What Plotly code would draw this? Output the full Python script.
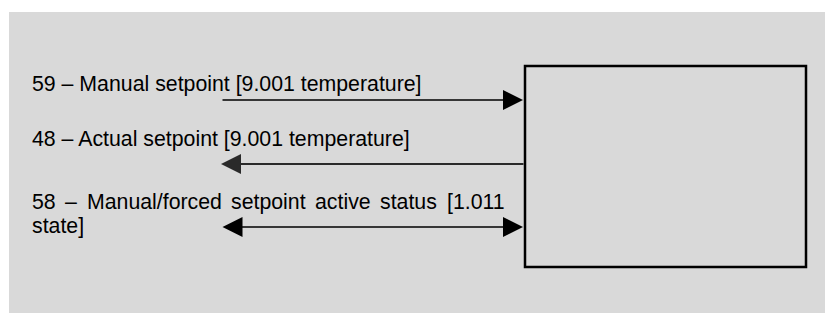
import plotly.graph_objects as go

# ---- diagram content ----
labels = [
    "59 – Manual setpoint [9.001 temperature]",
    "48 – Actual setpoint [9.001 temperature]",
]
label_y = [84, 139]
line3_words = ["58", "–", "Manual/forced", "setpoint", "active", "status", "[1.011"]
line3_x = [30, 63, 85, 229, 313, 378, 445]
line3_y = 202
line4_text = "state]"
line4_y = 226

arrow_y = [100, 164, 227]
arrow_dir = ["in", "out", "both"]
arrow_x0 = 221
arrow_x1 = 523

box = dict(x0=525, y0=66, x1=806, y1=267)
panel = dict(x0=9, y0=12, x1=845, y1=330)

W, H = 833, 313
OX, OY = 8, 8  # page body margin: data coords == window pixels
FONT = dict(family="Liberation Sans, Arial, sans-serif", size=21.3, color="#000000")

fig = go.Figure()
fig.add_trace(go.Scatter(x=[OX, OX + W], y=[OY, OY + H], mode="markers",
                         marker=dict(opacity=0), hoverinfo="skip", showlegend=False))

fig.add_shape(type="rect", xref="x", yref="y", **panel,
              fillcolor="#d9d9d9", line=dict(width=0), layer="below")
fig.add_shape(type="rect", xref="x", yref="y", **box,
              fillcolor="rgba(0,0,0,0)", line=dict(color="#000000", width=2.5))

for t, y in zip(labels, label_y):
    fig.add_annotation(x=30, y=y, xref="x", yref="y", text=t, showarrow=False,
                       xanchor="left", yanchor="middle", font=FONT)
for w, x in zip(line3_words, line3_x):
    fig.add_annotation(x=x, y=line3_y, xref="x", yref="y", text=w, showarrow=False,
                       xanchor="left", yanchor="middle", font=FONT)
fig.add_annotation(x=30, y=line4_y, xref="x", yref="y", text=line4_text, showarrow=False,
                   xanchor="left", yanchor="middle", font=FONT)

for y, d in zip(arrow_y, arrow_dir):
    if d == "out":
        tip, tail = arrow_x0, arrow_x1 + 2
        color, width = "#2a2a2a", 2
    else:
        tip, tail = arrow_x1, arrow_x0
        color, width = "#000000", 1.5
    hs = 4.0 / width
    fig.add_annotation(x=tip, y=y, ax=tail, ay=y, xref="x", yref="y", axref="x", ayref="y",
                       text="", showarrow=True, arrowhead=2, arrowsize=hs,
                       arrowwidth=width, arrowcolor=color, standoff=0, startstandoff=0,
                       arrowside="end+start" if d == "both" else "end",
                       startarrowhead=2, startarrowsize=hs)

fig.update_xaxes(range=[OX, OX + W], visible=False, fixedrange=True)
fig.update_yaxes(range=[OY + H, OY], visible=False, fixedrange=True)
fig.update_layout(width=W, height=H, margin=dict(l=0, r=0, t=0, b=0),
                  paper_bgcolor="#ffffff", plot_bgcolor="#ffffff", showlegend=False)

fig.write_html("out.html", config={"displayModeBar": False})
